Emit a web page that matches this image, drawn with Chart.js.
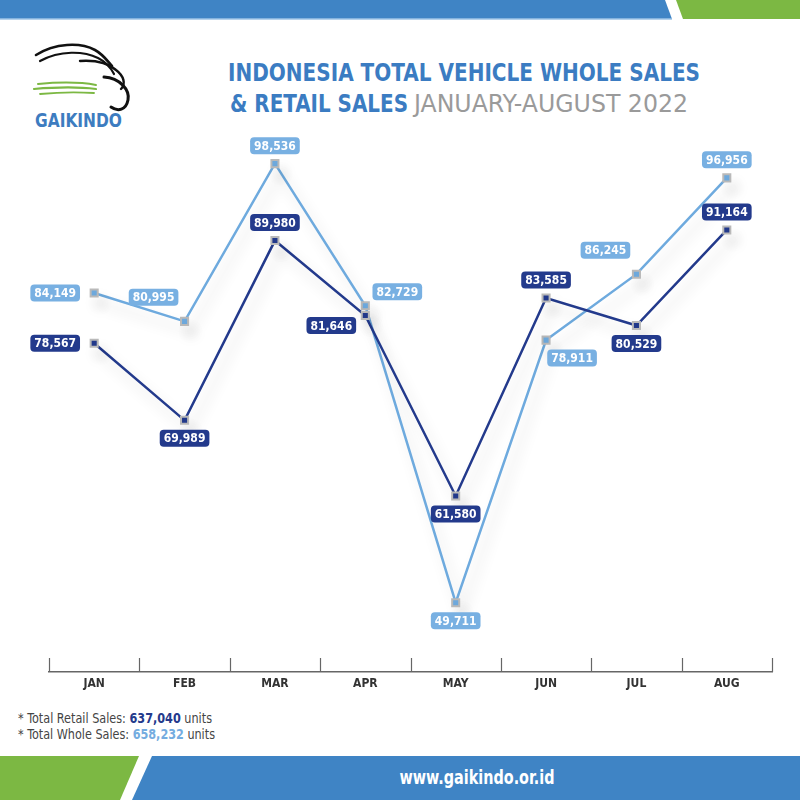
<!DOCTYPE html>
<html>
<head>
<meta charset="utf-8">
<script src="https://cdn.jsdelivr.net/npm/chart.js@4/dist/chart.umd.min.js"></script>
<style>
  html, body { margin: 0; padding: 0; background: #fff; }
  #page { position: relative; width: 800px; height: 800px; overflow: hidden; }
  #page svg, #page canvas { position: absolute; left: 0; top: 0; }
  .narrow { font-family: "Liberation Sans Narrow", "DejaVu Sans Condensed", "Roboto", sans-serif; }
</style>
</head>
<body>
<div id="page">
  <svg width="800" height="800" class="narrow">
    <!-- top banner -->
    <polygon points="0,0 665,0 672,19 0,19" fill="#3f84c5"/>
    <line x1="0" y1="19" x2="672" y2="19" stroke="#9cc3e6" stroke-width="1.5"/>
    <polygon points="676,0 800,0 800,19 683,19" fill="#7cb843"/>

    <!-- logo -->
    <g fill="none" stroke="#111" stroke-linecap="round">
      <path d="M36,55 C55,43 80,42 95,50 C104,55 108,62 112,66" stroke-width="2.6"/>
      <path d="M40,61 C60,50 84,51 98,58 C108,63 112,70 114,74" stroke-width="2.2"/>
      <path d="M80,61 C95,60 108,63 116,70 C124,76 126,84 121,89" stroke-width="2.4"/>
      <path d="M104,77 C120,78 130,90 128,100 C126,110 118,112 111,107" stroke-width="3"/>
    </g>
    <g fill="none" stroke="#7cb843" stroke-linecap="round">
      <path d="M38,84 C60,82 80,82 96,85" stroke-width="2"/>
      <path d="M34,89 C58,87 80,87 96,89" stroke-width="2.2"/>
      <path d="M40,94 C60,92 80,92 94,93" stroke-width="1.8"/>
    </g>
    <text x="35" y="127" font-size="20" font-weight="bold" fill="#3d7cc0" textLength="87" lengthAdjust="spacingAndGlyphs">GAIKINDO</text>

    <!-- title -->
    <text x="228" y="81" font-size="25" font-weight="bold" fill="#3b7cc2" textLength="472" lengthAdjust="spacingAndGlyphs">INDONESIA TOTAL VEHICLE WHOLE SALES</text>
    <text x="230" y="112" font-size="25" font-weight="bold" fill="#3b7cc2" textLength="178" lengthAdjust="spacingAndGlyphs">&amp; RETAIL SALES</text>
    <text x="414" y="112" font-size="25" fill="#9a9a9a" textLength="274" lengthAdjust="spacingAndGlyphs">JANUARY-AUGUST 2022</text>

    <!-- footnotes -->
    <text x="18" y="723" font-size="13.5" fill="#444" textLength="194" lengthAdjust="spacingAndGlyphs">* Total Retail Sales: <tspan font-weight="bold" fill="#243a8c">637,040</tspan> units</text>
    <text x="18" y="739" font-size="13.5" fill="#444" textLength="197" lengthAdjust="spacingAndGlyphs">* Total Whole Sales: <tspan font-weight="bold" fill="#74ace0">658,232</tspan> units</text>

    <!-- bottom banner -->
    <polygon points="0,756 139,756 120,800 0,800" fill="#7cb843"/>
    <polygon points="152,756 800,756 800,800 132,800" fill="#3f84c5"/>
    <text x="477" y="784" font-size="19" font-weight="bold" fill="#fff" text-anchor="middle" textLength="155" lengthAdjust="spacingAndGlyphs">www.gaikindo.or.id</text>
  </svg>
  <canvas id="salesChart" width="800" height="800"></canvas>
</div>
<script>
const months = ["JAN", "FEB", "MAR", "APR", "MAY", "JUN", "JUL", "AUG"];
const retailSales = [78567, 69989, 89980, 81646, 61580, 83585, 80529, 91164];
const wholeSales = [84149, 80995, 98536, 82729, 49711, 78911, 86245, 96956];
const retailLabelSide = ["w", "s", "n", "sw", "s", "n", "s", "n"];
const wholeLabelSide = ["w", "nw", "n", "ne", "s", "se", "nw", "n"];

const darkBlue = "#233a8c";
const lightBlue = "#6eaade";
const labelFont = 'bold 12px "Liberation Sans Narrow", "DejaVu Sans Condensed", sans-serif';
const sideOffsets = { w: [-39, 0], n: [0, -18], s: [0, 18], nw: [-31, -24], ne: [32, -14], sw: [-34, 10], se: [26, 18] };

// soft drop shadow under the lines
const shadowPlugin = {
  id: "lineShadow",
  beforeDatasetDraw(chart) {
    const ctx = chart.ctx;
    ctx.save();
    ctx.shadowColor = "rgba(0,0,0,0.16)";
    ctx.shadowBlur = 14;
    ctx.shadowOffsetX = 6;
    ctx.shadowOffsetY = 10;
  },
  afterDatasetDraw(chart) {
    chart.ctx.restore();
  }
};

// short ticks pointing up from the axis line
const axisTicks = {
  id: "axisTicks",
  afterDraw(chart) {
    const x = chart.scales.x, ctx = chart.ctx;
    ctx.save();
    ctx.strokeStyle = "#666";
    ctx.lineWidth = 1.2;
    for (let i = 0; i <= months.length; i++) {
      const px = Math.round(x.getPixelForValue(i - 0.5)) + 0.5;
      ctx.beginPath();
      ctx.moveTo(px, x.top);
      ctx.lineTo(px, x.top - 14);
      ctx.stroke();
    }
    ctx.restore();
  }
};

function roundBox(ctx, x, y, w, h, r) {
  ctx.beginPath();
  ctx.moveTo(x + r, y);
  ctx.arcTo(x + w, y, x + w, y + h, r);
  ctx.arcTo(x + w, y + h, x, y + h, r);
  ctx.arcTo(x, y + h, x, y, r);
  ctx.arcTo(x, y, x + w, y, r);
  ctx.closePath();
}

const valueBoxes = {
  id: "valueBoxes",
  afterDatasetsDraw(chart) {
    const ctx = chart.ctx;
    ctx.save();
    ctx.font = labelFont;
    ctx.textAlign = "center";
    ctx.textBaseline = "middle";
    chart.data.datasets.forEach((ds, di) => {
      const meta = chart.getDatasetMeta(di);
      meta.data.forEach((pt, i) => {
        const txt = ds.data[i].toLocaleString("en-US");
        const w = ctx.measureText(txt).width + 8, h = 17;
        const [dx, dy] = sideOffsets[ds.labelSide[i]];
        const cx = pt.x + dx, cy = pt.y + dy;
        ctx.fillStyle = ds.boxColor;
        roundBox(ctx, cx - w / 2, cy - h / 2, w, h, 4);
        ctx.fill();
        ctx.fillStyle = "#fff";
        ctx.fillText(txt, cx, cy + 1);
      });
    });
    ctx.restore();
  }
};

new Chart(document.getElementById("salesChart"), {
  type: "line",
  data: {
    labels: months,
    datasets: [
      {
        label: "Retail Sales", data: retailSales, labelSide: retailLabelSide, boxColor: darkBlue,
        borderColor: darkBlue, borderWidth: 2.5, pointStyle: "rect", pointRadius: 5,
        pointBackgroundColor: darkBlue, pointBorderColor: "#b9b9b9", pointBorderWidth: 2, clip: false
      },
      {
        label: "Whole Sales", data: wholeSales, labelSide: wholeLabelSide, boxColor: "#78b0e2",
        borderColor: lightBlue, borderWidth: 2.5, pointStyle: "rect", pointRadius: 5,
        pointBackgroundColor: lightBlue, pointBorderColor: "#b9b9b9", pointBorderWidth: 2, clip: false
      }
    ]
  },
  options: {
    responsive: false,
    animation: false,
    layout: { padding: { left: 49, right: 28, top: 132.5, bottom: 0 } },
    plugins: { legend: { display: false }, tooltip: { enabled: false } },
    scales: {
      x: {
        offset: true,
        grid: { display: false, drawTicks: false },
        border: { display: true, color: "#666", width: 1.5 },
        ticks: { color: "#333", padding: 5, font: { family: '"Liberation Sans Narrow", "DejaVu Sans Condensed", sans-serif', size: 12, weight: "bold" } },
        afterFit: (s) => { s.height = 128; }
      },
      y: { display: false, min: 42000, max: 102000 }
    }
  },
  plugins: [shadowPlugin, axisTicks, valueBoxes]
});
</script>
</body>
</html>
